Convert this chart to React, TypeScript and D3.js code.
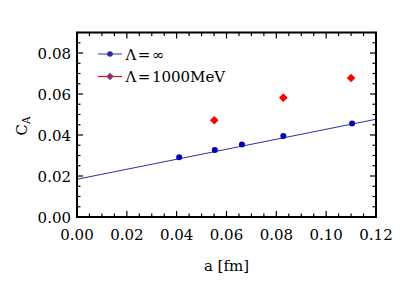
import { useRef, useEffect } from 'react';
import * as d3 from 'd3';

// lattice spacing a [fm] and C_A values
const aInf = [0.041, 0.0553, 0.0662, 0.0828, 0.1104];
const cInf = [0.0291, 0.0327, 0.0354, 0.0395, 0.0456];
const a1000 = [0.0551, 0.0828, 0.110];
const c1000 = [0.0472, 0.0582, 0.0678];
// linear fit of the Λ=∞ points: intercept, slope
const fitInf = [0.0184, 0.244];
const xTicks = [0, 0.02, 0.04, 0.06, 0.08, 0.1, 0.12];
const yTicks = [0, 0.02, 0.04, 0.06, 0.08];
const legendLabels = [
  ['Λ', '=', '∞'],
  ['Λ', '=', '1000MeV'],
];

const W = 415;
const H = 282;
const margin = { top: 32.5, right: 39, bottom: 65, left: 77 };
const FONT = "'DejaVu Serif', serif";
const FS = 15;

export default function App() {
  const svgRef = useRef<SVGSVGElement>(null);

  useEffect(() => {
    if (!svgRef.current) return;
    const svg = d3.select(svgRef.current);
    svg.selectAll('*').remove();

    const iw = W - margin.left - margin.right;
    const ih = H - margin.top - margin.bottom;

    const x = d3.scaleLinear().domain([0, 0.12]).range([0, iw]);
    const y = d3.scaleLinear().domain([0, 0.09]).range([ih, 0]);

    const g = svg
      .append('g')
      .attr('transform', `translate(${margin.left},${margin.top})`);

    svg
      .append('defs')
      .append('clipPath')
      .attr('id', 'plot-clip')
      .append('rect')
      .attr('width', iw)
      .attr('height', ih);

    // minor + major ticks, drawn inward on all four sides
    const xMinor = d3.range(0, 0.1201, 0.005);
    const yMinor = d3.range(0, 0.0901, 0.005);
    const isMajor = (v: number) => Math.abs(v / 0.02 - Math.round(v / 0.02)) < 1e-6;
    const ticks = g.append('g').attr('stroke', '#000').attr('stroke-width', 1.2);
    xMinor.forEach((v) => {
      const len = isMajor(v) ? 6 : 3.5;
      ticks.append('line').attr('x1', x(v)).attr('x2', x(v)).attr('y1', ih).attr('y2', ih - len);
      ticks.append('line').attr('x1', x(v)).attr('x2', x(v)).attr('y1', 0).attr('y2', len);
    });
    yMinor.forEach((v) => {
      const len = isMajor(v) ? 6 : 3.5;
      ticks.append('line').attr('y1', y(v)).attr('y2', y(v)).attr('x1', 0).attr('x2', len);
      ticks.append('line').attr('y1', y(v)).attr('y2', y(v)).attr('x1', iw).attr('x2', iw - len);
    });

    // tick labels
    g.append('g')
      .selectAll('text')
      .data(xTicks)
      .join('text')
      .attr('x', (d) => x(d))
      .attr('y', ih + 22.5)
      .attr('text-anchor', 'middle')
      .style('font-family', FONT)
      .style('font-size', `${FS}px`)
      .text((d) => d.toFixed(2));

    g.append('g')
      .selectAll('text')
      .data(yTicks)
      .join('text')
      .attr('x', -6)
      .attr('y', (d) => y(d) + 5.5)
      .attr('text-anchor', 'end')
      .style('font-family', FONT)
      .style('font-size', `${FS}px`)
      .text((d) => d.toFixed(2));

    // fit line
    g.append('line')
      .attr('clip-path', 'url(#plot-clip)')
      .attr('x1', x(0))
      .attr('y1', y(fitInf[0]))
      .attr('x2', x(0.12))
      .attr('y2', y(fitInf[0] + fitInf[1] * 0.12))
      .attr('stroke', '#2e2e9e')
      .attr('stroke-width', 1);

    // Λ=∞ points
    g.append('g')
      .selectAll('circle')
      .data(aInf.map((a, i) => [a, cInf[i]]))
      .join('circle')
      .attr('cx', (d) => x(d[0]))
      .attr('cy', (d) => y(d[1]))
      .attr('r', 3)
      .attr('fill', '#0000b4');

    // Λ=1000 MeV points
    const diamond = d3.symbol().type(d3.symbolDiamond2).size(48);
    g.append('g')
      .selectAll('path')
      .data(a1000.map((a, i) => [a, c1000[i]]))
      .join('path')
      .attr('d', diamond)
      .attr('transform', (d) => `translate(${x(d[0])},${y(d[1])})`)
      .attr('fill', '#ff0000');

    // frame
    g.append('rect')
      .attr('width', iw)
      .attr('height', ih)
      .attr('fill', 'none')
      .attr('stroke', '#000')
      .attr('stroke-width', 2);

    // legend
    const legend = svg.append('g');
    const legY = [54, 76.5];
    const lineCol = ['#5555b5', '#ff0000'];
    const markCol = ['#2a2a9e', '#8b3570'];
    legendLabels.forEach((parts, i) => {
      legend
        .append('line')
        .attr('x1', 98)
        .attr('x2', 122)
        .attr('y1', legY[i])
        .attr('y2', legY[i])
        .attr('stroke', lineCol[i])
        .attr('stroke-width', 1.2);
      if (i === 0) {
        legend.append('circle').attr('cx', 110).attr('cy', legY[i]).attr('r', 2.8).attr('fill', markCol[i]);
      } else {
        legend
          .append('path')
          .attr('d', d3.symbol().type(d3.symbolDiamond2).size(36)())
          .attr('transform', `translate(110,${legY[i]})`)
          .attr('fill', markCol[i]);
      }
      const t = legend
        .append('text')
        .attr('x', 125.5)
        .attr('y', legY[i] + 5.5)
        .style('font-family', FONT)
        .style('font-size', `${FS}px`);
      // math-mode spacing around the relation sign
      t.append('tspan').text(parts[0]);
      t.append('tspan').attr('dx', 1.5).text(parts[1]);
      t.append('tspan').attr('dx', 1.5).text(parts[2]);
    });

    // axis titles
    svg
      .append('text')
      .attr('x', margin.left + iw / 2)
      .attr('y', 271)
      .attr('text-anchor', 'middle')
      .style('font-family', FONT)
      .style('font-size', `${FS}px`)
      .text('a [fm]');

    const yt = svg
      .append('text')
      .attr('transform', 'translate(27,126) rotate(-90)')
      .attr('text-anchor', 'middle')
      .style('font-family', FONT)
      .style('font-size', `${FS}px`);
    yt.append('tspan').text('C');
    yt.append('tspan').style('font-size', '10.5px').attr('dy', 3).text('A');
  }, []);

  return (
    <svg
      ref={svgRef}
      width={W}
      height={H}
      style={{ position: 'absolute', left: 0, top: 0, background: '#fff' }}
    />
  );
}
